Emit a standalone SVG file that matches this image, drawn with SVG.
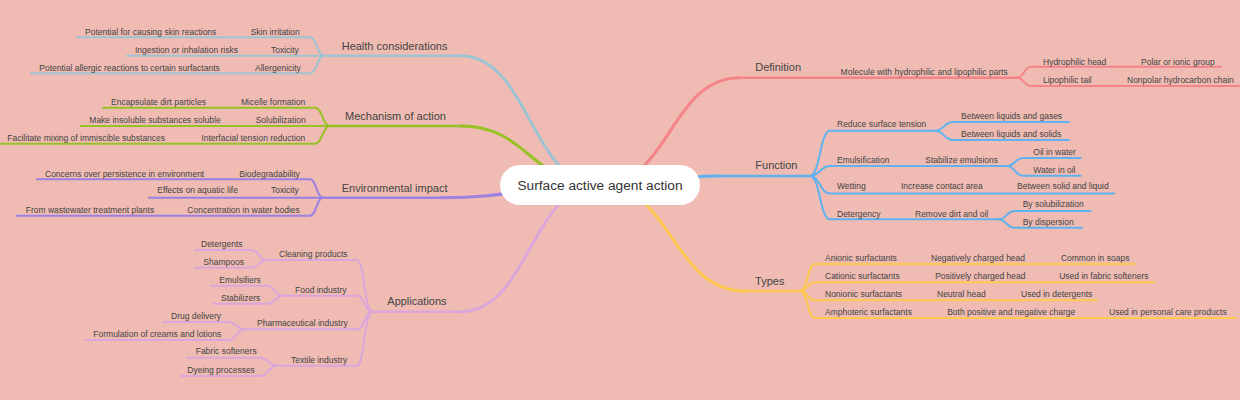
<svg xmlns="http://www.w3.org/2000/svg" width="1240" height="400" viewBox="0 0 1240 400">
<style>
text{font-family:"Liberation Sans",Arial,Helvetica,sans-serif;fill:#444}
.t{font-size:8.5px}
.l1{font-size:11px}
.root{font-size:13.7px;fill:#333}
#connectors path{fill:none;stroke-width:2;stroke-linecap:round}
#connectors path.rl{stroke-width:3}
#connectors path.l1l{stroke-width:2.5}
.ch{stroke:#9EC3D3}.cm{stroke:#97C126}.ce{stroke:#9C80E2}.ca{stroke:#DBA6DB}
.cd{stroke:#F58488}.cf{stroke:#5FB2F0}.ct{stroke:#FFC850}
</style>
<rect x="0" y="0" width="1240" height="400" fill="#EFBBB3"/>
<g id="connectors">
<g class="ch">
<path class="rl" d="M600,185 C530,185 530,55.7 460,55.7"/>
<path class="l1l" d="M460,55.7 H324"/>
<path d="M77,37.3 H310 C317,37.3 317,55.7 324,55.7"/>
<path d="M127,55.7 H324"/>
<path d="M31,73.3 H310 C317,73.3 317,55.7 324,55.7"/>
</g>
<g class="cm">
<path class="rl" d="M600,185 C530,185 530,126 460,126"/>
<path class="l1l" d="M460,126 H330"/>
<path d="M103,107.7 H315 C322.5,107.7 322.5,126 330,126"/>
<path d="M81,126 H330"/>
<path d="M0,143.7 H315 C322.5,143.7 322.5,126 330,126"/>
</g>
<g class="ce">
<path class="rl" d="M600,185 C520,185 520,197.7 440,197.7"/>
<path class="l1l" d="M440,197.7 H323"/>
<path d="M37,179.3 H310 C316.5,179.3 316.5,197.7 323,197.7"/>
<path d="M149,197.7 H323"/>
<path d="M17,215.7 H310 C316.5,215.7 316.5,197.7 323,197.7"/>
</g>
<g class="ca">
<path class="rl" d="M600,185 C530,185 530,311.7 460,311.7"/>
<path class="l1l" d="M460,311.7 H372"/>
<path d="M267,260 H357 C364.5,260 364.5,311.7 372,311.7"/>
<path d="M195,250 H251 C259,250 259,260 267,260"/>
<path d="M195,267.7 H251 C259,267.7 259,260 267,260"/>
<path d="M283,295.7 H357 C364.5,295.7 364.5,311.7 372,311.7"/>
<path d="M211,285.7 H267 C275,285.7 275,295.7 283,295.7"/>
<path d="M213,303.7 H267 C275,303.7 275,295.7 283,295.7"/>
<path d="M245,329.3 H357 C364.5,329.3 364.5,311.7 372,311.7"/>
<path d="M163,322 H228 C236.5,322 236.5,329.3 245,329.3"/>
<path d="M85,340 H228 C236.5,340 236.5,329.3 245,329.3"/>
<path d="M277,365.7 H357 C364.5,365.7 364.5,311.7 372,311.7"/>
<path d="M187,357.7 H260 C268.5,357.7 268.5,365.7 277,365.7"/>
<path d="M181,376 H260 C268.5,376 268.5,365.7 277,365.7"/>
</g>
<g class="cd">
<path class="rl" d="M600,185 C670,185 670,77.7 740,77.7"/>
<path class="l1l" d="M740,77.7 H1017"/>
<path d="M1017,77.7 C1024,77.7 1024,66.7 1031,66.7 H1221"/>
<path d="M1017,77.7 C1024,77.7 1024,86 1031,86 H1240"/>
</g>
<g class="cf">
<path class="rl" d="M600,185 C660,185 660,176 720,176"/>
<path class="l1l" d="M720,176 H810"/>
<path d="M810,176 C820,176 820,130.7 830,130.7 H935"/>
<path d="M935,130.7 C944,130.7 944,122 953,122 H1068.7"/>
<path d="M935,130.7 C944,130.7 944,140 953,140 H1068.7"/>
<path d="M810,176 C820,176 820,166 830,166 H1007"/>
<path d="M1007,166 C1015,166 1015,158 1023,158 H1080.7"/>
<path d="M1007,166 C1015,166 1015,175.7 1023,175.7 H1080.7"/>
<path d="M810,176 C820,176 820,193.5 830,193.5 H1114.3"/>
<path d="M810,176 C820,176 820,219.3 830,219.3 H998.3"/>
<path d="M998.3,219.3 C1006.5,219.3 1006.5,211 1014.7,211 H1090.7"/>
<path d="M998.3,219.3 C1006.5,219.3 1006.5,227.7 1014.7,227.7 H1082"/>
</g>
<g class="ct">
<path class="rl" d="M600,185 C672,185 672,291 745,291"/>
<path class="l1l" d="M745,291 H800"/>
<path d="M800,291 C807.5,291 807.5,264 815,264 H1134.6"/>
<path d="M800,291 C807.5,291 807.5,282.3 815,282.3 H1154.5"/>
<path d="M800,291 C807.5,291 807.5,300.3 815,300.3 H1097"/>
<path d="M800,291 C807.5,291 807.5,318 815,318 H1236"/>
</g>
</g>
<g id="root">
<rect x="500" y="165" width="200" height="40" rx="20" fill="#fff"/>
<text class="root" x="600" y="190" text-anchor="middle">Surface active agent action</text>
</g>
<g id="health">
<text class="l1" x="341.7" y="49.5">Health considerations</text>
<g id="health-skin"><text class="t" x="250.7" y="35">Skin irritation</text><text class="t" x="85" y="35">Potential for causing skin reactions</text></g>
<g id="health-tox"><text class="t" x="271" y="52.7">Toxicity</text><text class="t" x="135" y="52.7">Ingestion or inhalation risks</text></g>
<g id="health-allergy"><text class="t" x="255" y="70.7">Allergenicity</text><text class="t" x="39.3" y="70.7">Potential allergic reactions to certain surfactants</text></g>
</g>
<g id="mechanism">
<text class="l1" x="345" y="119.5">Mechanism of action</text>
<g id="mech-micelle"><text class="t" x="241" y="104.5">Micelle formation</text><text class="t" x="111" y="104.5">Encapsulate dirt particles</text></g>
<g id="mech-solub"><text class="t" x="255.7" y="122.5">Solubilization</text><text class="t" x="89.3" y="122.5">Make insoluble substances soluble</text></g>
<g id="mech-interf"><text class="t" x="201.3" y="140.5">Interfacial tension reduction</text><text class="t" x="7.3" y="140.5">Facilitate mixing of immiscible substances</text></g>
</g>
<g id="environment">
<text class="l1" x="341.7" y="191.5">Environmental impact</text>
<g id="env-bio"><text class="t" x="239.3" y="176.7">Biodegradability</text><text class="t" x="45" y="176.7">Concerns over persistence in environment</text></g>
<g id="env-tox"><text class="t" x="271" y="193">Toxicity</text><text class="t" x="157.3" y="193">Effects on aquatic life</text></g>
<g id="env-conc"><text class="t" x="187.3" y="212.5">Concentration in water bodies</text><text class="t" x="25.7" y="212.5">From wastewater treatment plants</text></g>
</g>
<g id="applications">
<text class="l1" x="387.3" y="304.5">Applications</text>
<g id="app-cleaning"><text class="t" x="279" y="257">Cleaning products</text><text class="t" x="201" y="247">Detergents</text><text class="t" x="203.3" y="264.7">Shampoos</text></g>
<g id="app-food"><text class="t" x="295" y="292.5">Food industry</text><text class="t" x="219.3" y="282.5">Emulsifiers</text><text class="t" x="221" y="300.5">Stabilizers</text></g>
<g id="app-pharma"><text class="t" x="257" y="326.3">Pharmaceutical industry</text><text class="t" x="171" y="318.5">Drug delivery</text><text class="t" x="93.3" y="336.5">Formulation of creams and lotions</text></g>
<g id="app-textile"><text class="t" x="291" y="362.5">Textile industry</text><text class="t" x="195.7" y="354.2">Fabric softeners</text><text class="t" x="187.3" y="372.5">Dyeing processes</text></g>
</g>
<g id="definition">
<text class="l1" x="755.2" y="70.6">Definition</text>
<g id="def-molecule"><text class="t" x="840.6" y="75">Molecule with hydrophilic and lipophilic parts</text></g>
<g id="def-head"><text class="t" x="1043" y="64.5">Hydrophilic head</text><text class="t" x="1141" y="64.5">Polar or ionic group</text></g>
<g id="def-tail"><text class="t" x="1043" y="83">Lipophilic tail</text><text class="t" x="1127" y="83">Nonpolar hydrocarbon chain</text></g>
</g>
<g id="function">
<text class="l1" x="755.3" y="169">Function</text>
<g id="fn-reduce"><text class="t" x="837" y="127">Reduce surface tension</text><text class="t" x="961" y="118.5">Between liquids and gases</text><text class="t" x="961" y="136.5">Between liquids and solids</text></g>
<g id="fn-emuls"><text class="t" x="837" y="163">Emulsification</text><text class="t" x="925.3" y="163">Stabilize emulsions</text><text class="t" x="1033.3" y="154.5">Oil in water</text><text class="t" x="1033.3" y="172.5">Water in oil</text></g>
<g id="fn-wetting"><text class="t" x="837" y="189">Wetting</text><text class="t" x="901" y="189">Increase contact area</text><text class="t" x="1017" y="189">Between solid and liquid</text></g>
<g id="fn-deterg"><text class="t" x="837" y="216.5">Detergency</text><text class="t" x="915" y="216.5">Remove dirt and oil</text><text class="t" x="1022.7" y="207.3">By solubilization</text><text class="t" x="1022.7" y="224.5">By dispersion</text></g>
</g>
<g id="types">
<text class="l1" x="755.1" y="285.3">Types</text>
<g id="ty-anionic"><text class="t" x="825" y="260.7">Anionic surfactants</text><text class="t" x="931" y="260.7">Negatively charged head</text><text class="t" x="1060.9" y="260.7">Common in soaps</text></g>
<g id="ty-cationic"><text class="t" x="825" y="278.7">Cationic surfactants</text><text class="t" x="935.2" y="278.7">Positively charged head</text><text class="t" x="1059.2" y="278.7">Used in fabric softeners</text></g>
<g id="ty-nonionic"><text class="t" x="825" y="296.7">Nonionic surfactants</text><text class="t" x="937" y="296.7">Neutral head</text><text class="t" x="1021" y="296.7">Used in detergents</text></g>
<g id="ty-amphoteric"><text class="t" x="825" y="314.7">Amphoteric surfactants</text><text class="t" x="947.2" y="314.7">Both positive and negative charge</text><text class="t" x="1109" y="314.7">Used in personal care products</text></g>
</g>
</svg>
